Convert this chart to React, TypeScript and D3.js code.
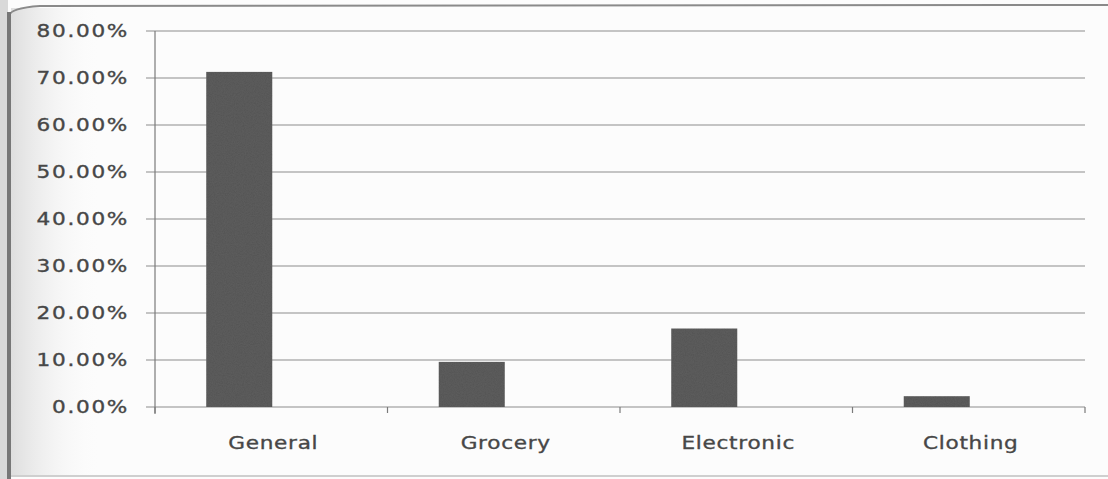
import React from 'react';
import * as d3 from 'd3';

// Share of respondents by store category
const categories: string[] = ['General', 'Grocery', 'Electronic', 'Clothing'];
const shares: number[] = [0.713, 0.096, 0.167, 0.023];
const yTickValues: number[] = [0, 0.1, 0.2, 0.3, 0.4, 0.5, 0.6, 0.7, 0.8];

const W = 1108;
const H = 479;
const plot = { left: 155, right: 1085, top: 31, bottom: 407 };
const barOffset = -32; // bars sit left of their category centres
const stretch = 1.2; // wide lettering
const baseText: React.CSSProperties = {
  fontFamily: '"DejaVu Sans", Verdana, sans-serif',
  fontSize: 18,
  fill: '#474747',
  stroke: '#474747',
  strokeWidth: 0.35,
};

export default function App() {
  const y = d3.scaleLinear().domain([0, 0.8]).range([plot.bottom, plot.top]);
  const x = d3.scaleBand<string>().domain(categories).range([plot.left, plot.right]);
  const xBar = d3
    .scaleBand<string>()
    .domain(categories)
    .range([plot.left + barOffset, plot.right + barOffset])
    .paddingInner(0.716)
    .paddingOuter(0.358);
  const fmt = d3.format('.2%');
  const boundaries = d3.range(categories.length + 1).map((i) => plot.left + i * x.step());

  return (
    <svg
      width={W}
      height={H}
      viewBox={`0 0 ${W} ${H}`}
      style={{ position: 'absolute', left: 0, top: 0, background: '#fcfcfc' }}
    >
      <defs>
        <linearGradient id="edgeShade" x1="0" x2="1" y1="0" y2="0">
          <stop offset="0" stopColor="#dedede" />
          <stop offset="1" stopColor="#fcfcfc" stopOpacity="0" />
        </linearGradient>
        <filter id="grain" x="0" y="0" width="100%" height="100%">
          <feTurbulence type="fractalNoise" baseFrequency="0.9" numOctaves="2" seed="3" result="noise" />
          <feColorMatrix in="noise" type="saturate" values="0" result="mono" />
          <feComponentTransfer in="mono" result="soft">
            <feFuncA type="linear" slope="0.35" />
          </feComponentTransfer>
          <feComposite in="soft" in2="SourceGraphic" operator="in" result="clipped" />
          <feBlend in="SourceGraphic" in2="clipped" mode="multiply" />
        </filter>
      </defs>

      {/* page frame */}
      <rect x={0} y={0} width={8} height={H} fill="#d9d9d9" />
      <rect x={11} y={8} width={90} height={H - 10} fill="url(#edgeShade)" />
      <path d="M9,16 Q10,8 40,6 L1108,5" fill="none" stroke="#8a8a8a" strokeWidth={2} />
      <line x1={9} x2={9} y1={12} y2={H} stroke="#777" strokeWidth={4} />
      <line x1={11} x2={W} y1={476} y2={476} stroke="#cfcfcf" strokeWidth={2} />

      {/* horizontal gridlines and y labels */}
      {yTickValues.map((v) => (
        <g key={v}>
          <line x1={plot.left - 9} x2={plot.right} y1={y(v)} y2={y(v)} stroke="#8c8c8c" strokeWidth={1.2} />
          <g transform={`translate(129,${y(v)}) scale(${stretch},1)`}>
            <text dy="0.36em" textAnchor="end" style={{ ...baseText, letterSpacing: 1.4 }}>
              {fmt(v)}
            </text>
          </g>
        </g>
      ))}

      {/* y axis */}
      <line x1={plot.left} x2={plot.left} y1={plot.top} y2={plot.bottom + 7} stroke="#7a7a7a" strokeWidth={1.2} />

      {/* x axis tick marks at category boundaries */}
      {boundaries.map((bx, i) => (
        <line key={i} x1={bx} x2={bx} y1={plot.bottom} y2={plot.bottom + 6} stroke="#7a7a7a" strokeWidth={1.2} />
      ))}

      {/* bars */}
      {categories.map((c, i) => (
        <rect
          key={c}
          x={xBar(c)}
          y={y(shares[i])}
          width={xBar.bandwidth()}
          height={y(0) - y(shares[i])}
          fill="#5d5d5d"
          filter="url(#grain)"
        />
      ))}

      {/* category labels */}
      {categories.map((c) => (
        <g key={c} transform={`translate(${(x(c) as number) + x.bandwidth() / 2 + 2},449) scale(${stretch},1)`}>
          <text textAnchor="middle" style={{ ...baseText, letterSpacing: 0.6 }}>
            {c}
          </text>
        </g>
      ))}
    </svg>
  );
}
